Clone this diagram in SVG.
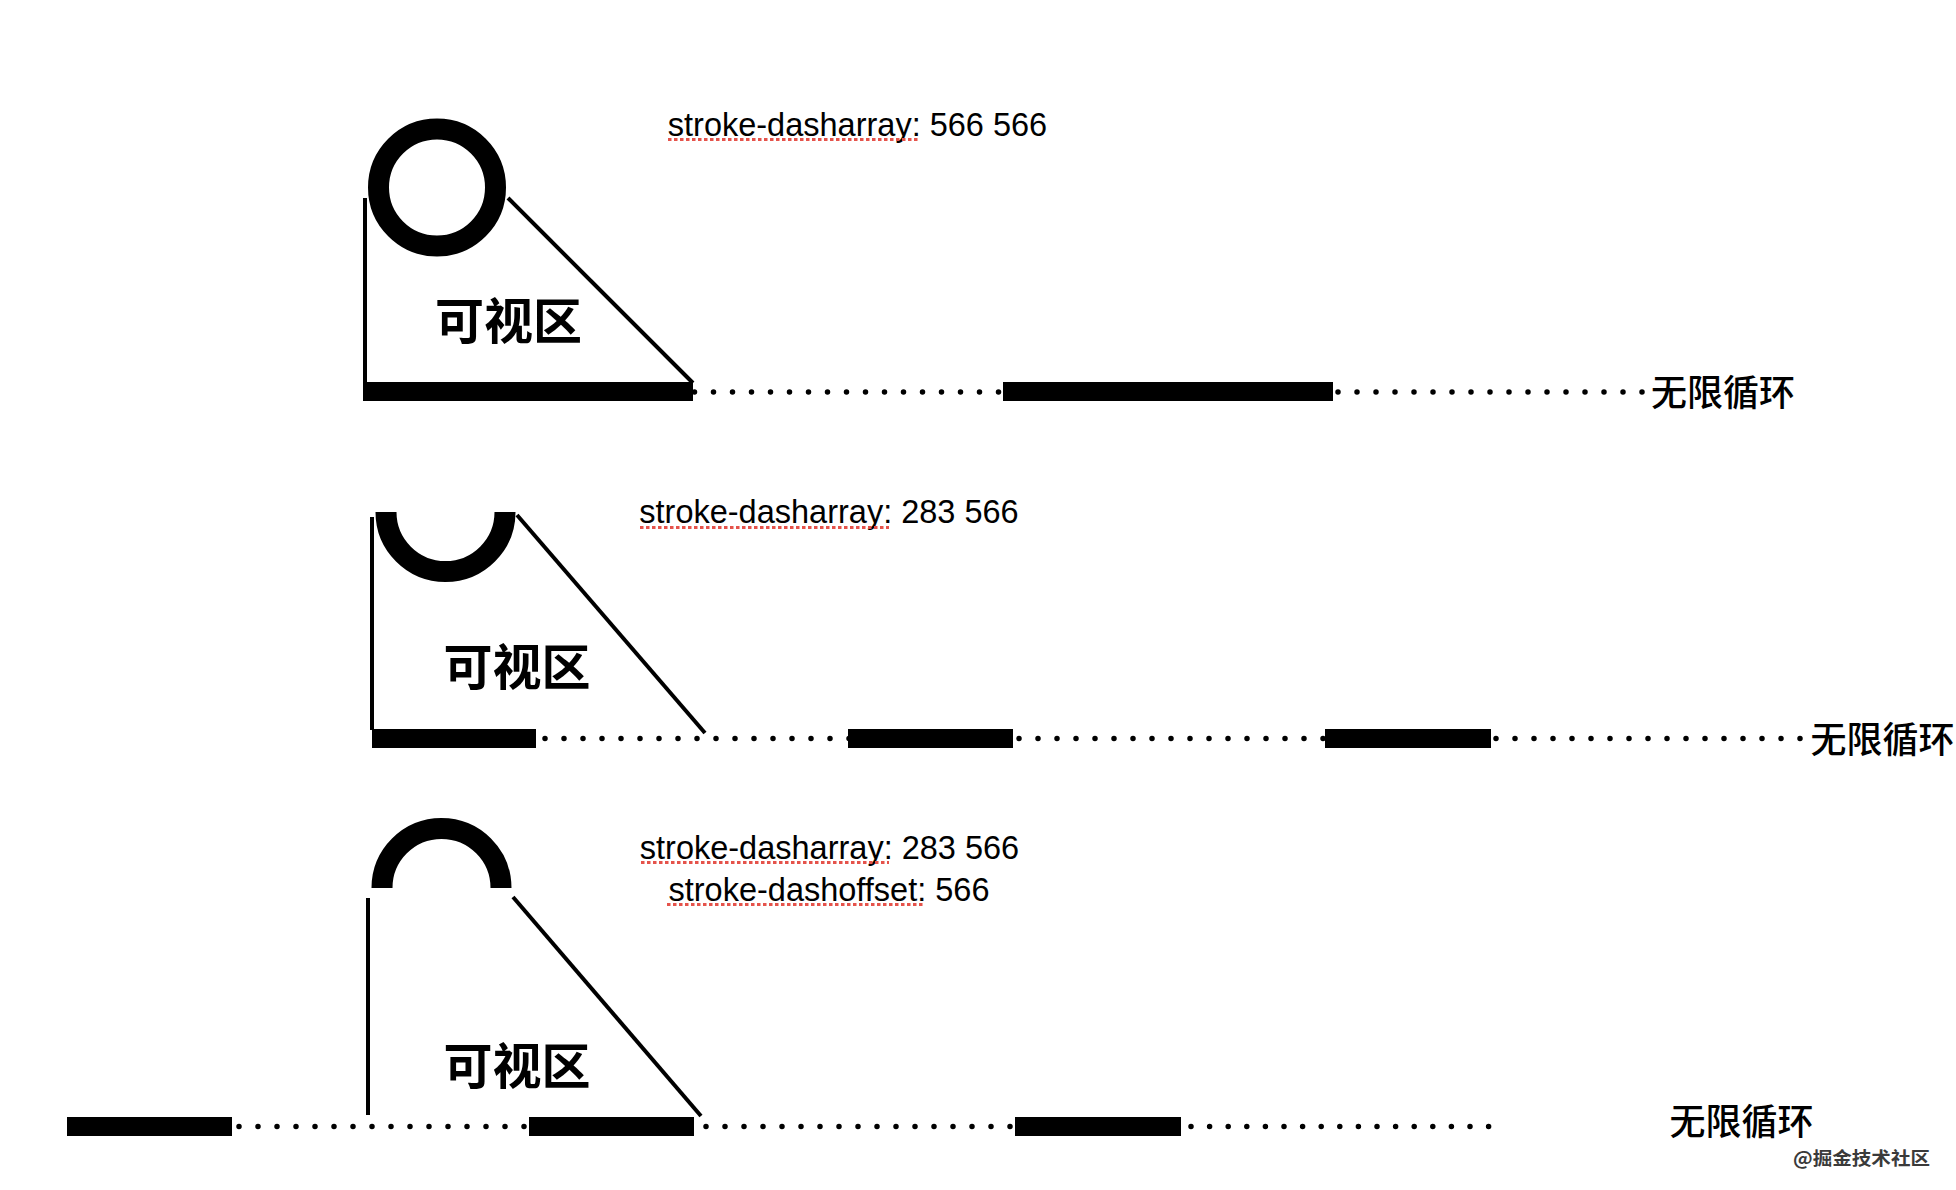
<svg xmlns="http://www.w3.org/2000/svg" width="1956" height="1190" viewBox="0 0 1956 1190">
  <style>
    .ring { fill: none; stroke: #000; stroke-width: 21; stroke-linecap: butt; }
    .edge { stroke: #000; stroke-width: 4; fill: none; }
    .bar { fill: #000; }
    .dots { stroke: #000; stroke-width: 5.5; stroke-linecap: round; stroke-dasharray: 0 19; fill: none; }
    .dots-tight { stroke-dasharray: 0 18.6; }
    .label { font-family: "Liberation Sans", Arial, "Noto Sans CJK SC", sans-serif; font-size: 32.5px; fill: #000; text-anchor: middle; }
    .squiggle { stroke: #e5534b; stroke-width: 3; stroke-dasharray: 3.5 2.5; fill: none; }
    .view { font-family: "Noto Sans CJK SC", "Noto Sans", sans-serif; font-size: 49px; font-weight: 700; fill: #000; text-anchor: middle; }
    .loop { font-family: "Noto Sans CJK SC", "Noto Sans", sans-serif; font-size: 36px; font-weight: 500; fill: #000; text-anchor: middle; }
    .mark { font-family: "Noto Sans CJK SC", "Noto Sans", sans-serif; font-size: 18px; font-weight: 700; fill: #3a3a3a; }
  </style>

  <rect width="1956" height="1190" fill="#fff"/>

  <!-- Row 1 -->
  <g id="row1">
    <g id="row1-label">
      <text class="label" x="857.5" y="136">stroke-dasharray: 566 566</text>
      <line class="squiggle" x1="668" y1="139.5" x2="918" y2="139.5"/>
    </g>
    <g id="row1-circle">
      <circle class="ring" cx="437" cy="187.5" r="58.5"/>
    </g>
    <g id="row1-viewport">
      <text class="view" x="508.5" y="338.5">可视区</text>
    </g>
    <g id="row1-track">
      <rect class="bar" x="363" y="382" width="330" height="19"/>
      <rect class="bar" x="1003" y="382" width="330" height="19"/>
      <line class="dots" x1="694.5" y1="392" x2="1000" y2="392"/>
      <line class="dots" x1="1338" y1="392" x2="1643" y2="392"/>
      <text class="loop" x="1723" y="405.5">无限循环</text>
    </g>
  </g>

  <!-- Row 2 -->
  <g id="row2">
    <g id="row2-label">
      <text class="label" x="829" y="523">stroke-dasharray: 283 566</text>
      <line class="squiggle" x1="640" y1="527.5" x2="889" y2="527.5"/>
    </g>
    <g id="row2-circle">
      <path class="ring" d="M 386 512 A 59.5 59.5 0 0 0 505 512"/>
    </g>
    <g id="row2-viewport">
      <text class="view" x="517" y="684.5">可视区</text>
    </g>
    <g id="row2-track">
      <rect class="bar" x="372" y="729" width="164" height="19"/>
      <rect class="bar" x="848" y="729" width="165" height="19"/>
      <rect class="bar" x="1325" y="729" width="166" height="19"/>
      <line class="dots" x1="545" y1="738.5" x2="850" y2="738.5"/>
      <line class="dots" x1="1019" y1="738.5" x2="1324.5" y2="738.5"/>
      <line class="dots" x1="1496" y1="738.5" x2="1801.5" y2="738.5"/>
      <text class="loop" x="1882.5" y="752.5">无限循环</text>
    </g>
  </g>

  <!-- Row 3 -->
  <g id="row3">
    <g id="row3-label">
      <text class="label" x="829.5" y="859">stroke-dasharray: 283 566</text>
      <line class="squiggle" x1="641" y1="862.5" x2="889" y2="862.5"/>
      <text class="label" x="829" y="901">stroke-dashoffset: 566</text>
      <line class="squiggle" x1="667" y1="904.5" x2="924" y2="904.5"/>
    </g>
    <g id="row3-circle">
      <path class="ring" d="M 382 888 A 59.5 59.5 0 0 1 501 888"/>
    </g>
    <g id="row3-viewport">
      <text class="view" x="517" y="1083.5">可视区</text>
    </g>
    <g id="row3-track">
      <rect class="bar" x="67" y="1117" width="165" height="19"/>
      <rect class="bar" x="529" y="1117" width="165" height="19"/>
      <rect class="bar" x="1015" y="1117" width="166" height="19"/>
      <line class="dots" x1="239" y1="1126.5" x2="525" y2="1126.5"/>
      <line class="dots" x1="706" y1="1126.5" x2="1011" y2="1126.5"/>
      <line class="dots dots-tight" x1="1191" y1="1126.5" x2="1489.5" y2="1126.5"/>
      <text class="loop" x="1741.5" y="1134.5">无限循环</text>
    </g>
  </g>

  <!-- Viewport edges -->
  <g id="connectors">
    <line class="edge" x1="365" y1="198" x2="365" y2="383"/>
    <line class="edge" x1="508" y1="198" x2="693" y2="383"/>
    <line class="edge" x1="372" y1="517" x2="372" y2="730"/>
    <line class="edge" x1="517" y1="515" x2="705" y2="733"/>
    <line class="edge" x1="368" y1="898" x2="368" y2="1115"/>
    <line class="edge" x1="513" y1="897" x2="701" y2="1116"/>
  </g>

  <g id="watermark">
    <text class="mark" x="1793" y="1165" textLength="137" lengthAdjust="spacingAndGlyphs">@掘金技术社区</text>
  </g>
</svg>
